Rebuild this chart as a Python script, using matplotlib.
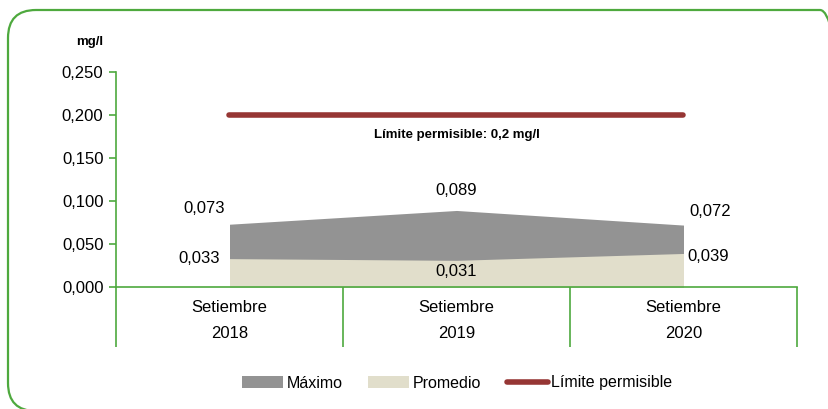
import matplotlib
matplotlib.use("Agg")
import matplotlib.pyplot as plt
from matplotlib.patches import FancyBboxPatch, Patch
from matplotlib.lines import Line2D
from matplotlib.transforms import IdentityTransform

plt.rcParams['font.family'] = ['Liberation Sans', 'DejaVu Sans']

categories = ["Setiembre\n2018", "Setiembre\n2019", "Setiembre\n2020"]
maximo = [0.073, 0.089, 0.072]
promedio = [0.033, 0.031, 0.039]
limite = [0.2, 0.2, 0.2]
yticks = [0.0, 0.05, 0.10, 0.15, 0.20, 0.25]
ytick_labels = ["0,000", "0,050", "0,100", "0,150", "0,200", "0,250"]

GREEN = "#4ea93e"
GRAY = "#939393"
BEIGE = "#e1decb"
RED = "#963634"

W, H = 829, 409
fig = plt.figure(figsize=(W/100, H/100), dpi=100)

# rounded frame (pixel coordinates, origin bottom-left)
frame = FancyBboxPatch((8, -2), 848 - 8, (H - 10) + 2,
                       boxstyle="round,pad=0,rounding_size=28",
                       transform=IdentityTransform(), fill=False, edgecolor=GREEN,
                       linewidth=1.6)
fig.patches.append(frame)

L, R, T, B = 116, 797, 72, 287
ax = fig.add_axes([L/W, 1 - B/H, (R - L)/W, (B - T)/H])
x = list(range(len(categories)))
ax.fill_between(x, 0, maximo, color=GRAY, linewidth=0)
ax.fill_between(x, 0, promedio, color=BEIGE, linewidth=0)
ax.plot(x, limite, color=RED, linewidth=4.0, solid_capstyle='round')

ax.set_xlim(-0.5, 2.5)
ax.set_ylim(0, 0.25)
ax.set_yticks(yticks)
ax.set_yticklabels(ytick_labels, fontsize=12)
ax.set_xticks(x)
ax.set_xticklabels(categories, fontsize=12, linespacing=2.0)
ax.tick_params(axis='x', which='major', length=0, pad=9)
ax.set_xticks([-0.5, 0.5, 1.5, 2.5], minor=True)
ax.tick_params(axis='x', which='minor', length=43.5, color=GREEN, width=1.2)
ax.tick_params(axis='y', length=5, color=GREEN, width=1.2, pad=4)
for s in ['top', 'right']:
    ax.spines[s].set_visible(False)
for s in ['left', 'bottom']:
    ax.spines[s].set_color(GREEN)
    ax.spines[s].set_linewidth(1.2)

fs = 12
ax.annotate("0,073", (x[0], maximo[0]), xytext=(-18, 11.5), textcoords='offset points', ha='center', va='center', fontsize=fs)
ax.annotate("0,033", (x[0], promedio[0]), xytext=(-22, 0), textcoords='offset points', ha='center', va='center', fontsize=fs)
ax.annotate("0,089", (x[1], maximo[1]), xytext=(0, 14.5), textcoords='offset points', ha='center', va='center', fontsize=fs)
ax.annotate("0,031", (x[1], promedio[1]), xytext=(0, -8), textcoords='offset points', ha='center', va='center', fontsize=fs)
ax.annotate("0,072", (x[2], maximo[2]), xytext=(19, 9.5), textcoords='offset points', ha='center', va='center', fontsize=fs)
ax.annotate("0,039", (x[2], promedio[2]), xytext=(18, -2), textcoords='offset points', ha='center', va='center', fontsize=fs)

ax.text(1, 0.177, "Límite permisible: 0,2 mg/l", ha='center', va='center', fontsize=9.5, fontweight='bold')
fig.text(90/W, 1 - 42/H, "mg/l", ha='center', va='center', fontsize=9.5, fontweight='bold')

handles = [Patch(facecolor=GRAY, edgecolor='none'),
           Patch(facecolor=BEIGE, edgecolor='none'),
           Line2D([0], [0], color=RED, linewidth=4.0, solid_capstyle='round')]
fig.legend(handles, ["Máximo", "Promedio", "Límite permisible"], loc='center',
           bbox_to_anchor=(457/W, 1 - 383/H), ncol=3, frameon=False, fontsize=11.5,
           handlelength=2.6, handleheight=0.7, handletextpad=0.2, columnspacing=1.6)

fig.savefig("out.png", dpi=100)
